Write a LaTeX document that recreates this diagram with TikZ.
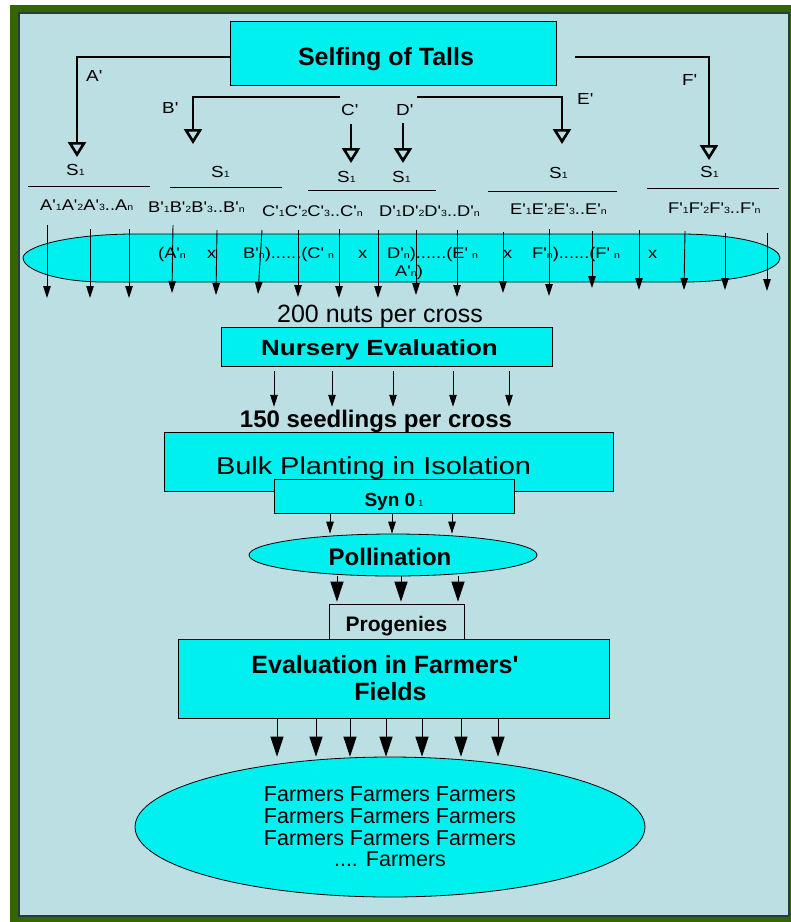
\documentclass[tikz,border=0pt]{standalone}
\usepackage{fontspec}
\setmainfont{Liberation Sans}[Ligatures=TeXOff]
\newfontfamily\widesans{Liberation Sans}[FakeStretch=1.18,Ligatures=TeXOff]
\usetikzlibrary{arrows.meta,shapes.geometric}
\definecolor{cyanbox}{HTML}{00EFEF}
\definecolor{panel}{HTML}{BBDFE3}
\definecolor{frame}{HTML}{336600}
\definecolor{rim}{HTML}{2B3A3A}
\newcommand{\sz}[1]{\fontsize{#1}{#1}\selectfont}
\newcommand{\subn}[1]{{\fontsize{9}{9}\selectfont #1}}
\newcommand{\prm}{'}

\begin{document}
\begin{tikzpicture}[x=1pt,y=-1pt,
    box/.style={draw, fill=cyanbox, line width=0.8pt, inner sep=0pt},
    branchline/.style={line width=2.6pt, -{Triangle[open,length=15pt,width=18pt]}},
    dart/.style={line width=0.9pt, -{Triangle[length=12pt,width=7.5pt]}},
    bigdart/.style={line width=1pt, -{Triangle[length=20pt,width=13pt]}},
    lab/.style={font=\widesans\sz{16}, inner sep=0pt, anchor=base west},
    row/.style={font=\widesans\sz{15.5}, inner sep=0pt, anchor=base west}]
  \useasboundingbox (0,0) rectangle (791,922);
  % frame
  \fill[frame] (10,5) rectangle (791,922);
  \draw[fill=panel, draw=rim, line width=1.6pt] (19,13) rectangle (789,916);

  % selfing
  \node[box, minimum width=326pt, minimum height=64pt, font=\sz{25}\bfseries,
        text height=24pt, text depth=0pt] (title) at (393,53) {Selfing of Talls\hspace*{14pt}};

  \coordinate (aEnd) at (77,157);
  \coordinate (fStart) at (575,57);
  \coordinate (fEnd) at (709,160);
  \coordinate (bStart) at (340,97);
  \coordinate (bEnd) at (193,144);
  \coordinate (cStart) at (351,124);
  \coordinate (cEnd) at (351,163);
  \coordinate (dStart) at (403,123);
  \coordinate (dEnd) at (403,163);
  \coordinate (eStart) at (417,97);
  \coordinate (eEnd) at (562,144);
  \draw[branchline] ([yshift=-4pt]title.west) -| (aEnd);
  \draw[branchline] (fStart) -| (fEnd);
  \draw[branchline] (bStart) -| (bEnd);
  \draw[branchline] (cStart) -- (cEnd);
  \draw[branchline] (dStart) -- (dEnd);
  \draw[branchline] (eStart) -| (eEnd);

  \node[lab] (la) at (86,81) {A\prm};
  \node[lab] (lb) at (162,113) {B\prm};
  \node[lab] (lc) at (341,115) {C\prm};
  \node[lab] (ld) at (396,115) {D\prm};
  \node[lab] (le) at (577,104) {E\prm};
  \node[lab] (lf) at (682,85) {F\prm};

  % S1 labels and rules
  \node[lab] (sA) at (66,175) {S\subn{1}};
  \node[lab] (sB) at (211,177) {S\subn{1}};
  \node[lab] (sC) at (337,182) {S\subn{1}};
  \node[lab] (sD) at (392,182) {S\subn{1}};
  \node[lab] (sE) at (549,178) {S\subn{1}};
  \node[lab] (sF) at (700,177) {S\subn{1}};
  \draw[line width=1pt] (28,186) -- (150,186);
  \draw[line width=1pt] (170,187) -- (282,187);
  \draw[line width=1pt] (308,190) -- (436,190);
  \draw[line width=1pt] (488,191) -- (617,191);
  \draw[line width=1pt] (647,188) -- (779,188);

  \node[row] (rA) at (40,210) {A\prm\subn{1}A\prm\subn{2}A\prm\subn{3}..A\subn{n}};
  \node[row] (rB) at (148,212) {B\prm\subn{1}B\prm\subn{2}B\prm\subn{3}..B\prm\subn{n}};
  \node[row] (rC) at (262,216) {C\prm\subn{1}C\prm\subn{2}C\prm\subn{3}..C\prm\subn{n}};
  \node[row] (rD) at (379,216) {D\prm\subn{1}D\prm\subn{2}D\prm\subn{3}..D\prm\subn{n}};
  \node[row] (rE) at (510,214) {E\prm\subn{1}E\prm\subn{2}E\prm\subn{3}..E\prm\subn{n}};
  \node[row] (rF) at (668,213) {F\prm\subn{1}F\prm\subn{2}F\prm\subn{3}..F\prm\subn{n}};

  % crosses
  \draw[fill=cyanbox, line width=0.8pt] (130,234) -- (684,234)
     .. controls (750,235) and (780,248) .. (780,258)
     .. controls (780,268) and (750,281) .. (688,282) -- (100,282)
     .. controls (50,281) and (23,268) .. (23,258)
     .. controls (23,248) and (60,235) .. (130,234) -- cycle;
  \node[row] (x1) at (158,258) {(A\prm\subn{n}};
  \node[row] (x2) at (207,258) {x};
  \node[row] (x3) at (243,258) {B\prm\subn{n})......(C\prm\hspace{4pt}\subn{n}};
  \node[row] (x4) at (358,258) {x};
  \node[row] (x5) at (387,258) {D\prm\subn{n})......(E\prm\hspace{4pt}\subn{n}};
  \node[row] (x6) at (503,258) {x};
  \node[row] (x7) at (532,258) {F\prm\subn{n})......(F\prm\hspace{4pt}\subn{n}};
  \node[row] (x8) at (648,258) {x};
  \node[row] (x9) at (395,276) {A\prm\subn{n})};

  \foreach \xa/\ya/\xb/\yb [count=\k] in {47/225/47/298, 90/229/90/298,
      129/229/129/298, 173/225/172/293, 217/230/216/295, 262/230/258/294,
      298/230/298/297, 339/229/339/298, 378/230/378/298, 416/230/416/295,
      457/230/457/297, 503/232/503/293, 549/229/549/296, 592/231/592/288,
      639/230/639/290, 685/231/684/290, 725/233/725/290, 767/233/767/291}{
    \coordinate (up\k) at (\xa,\ya);
    \coordinate (dn\k) at (\xb,\yb);
    \draw[dart] (up\k) -- (dn\k);
  }

  % nursery
  \node[font=\sz{25}, inner sep=0pt, anchor=base] (nuts) at (380,322) {200 nuts per cross};
  \node[box, minimum width=331pt, minimum height=39pt, font=\widesans\sz{22}\bfseries,
        text height=17pt, text depth=0pt] (nurs) at (386.5,346.5) {Nursery Evaluation\hspace*{14pt}};
  \node[font=\sz{24}\bfseries, inner sep=0pt, anchor=base, text height=18pt] (seed)
        at (376,427) {150 seedlings per cross};
  \foreach \x in {274,332,393,453,509}
    \draw[dart, shorten <=5pt, shorten >=2pt] (nurs.south -| \x,0) -- (seed.north -| \x,0);

  % isolation
  \node[box, minimum width=449pt, minimum height=59pt, font=\widesans\sz{24.5},
        text height=25pt, text depth=0pt] (bulk) at (388.5,461.5) {Bulk Planting in Isolation\hspace*{30pt}};
  \node[box, minimum width=240pt, minimum height=34pt, font=\sz{19},
        text height=20pt, text depth=0pt] (syn) at (394,496) {\textbf{Syn 0}\,\subn{1}};
  \node[box, ellipse, minimum width=288pt, minimum height=42pt, font=\sz{24}\bfseries,
        text height=20pt, text depth=0pt] (pol) at (393,555) {Pollination\hspace*{6pt}};
  \foreach \x in {330,392,452}
    \draw[dart] (syn.south -| \x,0) -- (pol.north -| \x,0);

  % progenies
  \node[box, fill=panel, minimum width=135pt, minimum height=35pt, font=\sz{21}\bfseries,
        text height=19pt, text depth=0pt] (prog) at (396.5,621.5) {Progenies};
  \foreach \x in {337,401,458}
    \draw[bigdart, shorten >=2pt] (pol.south -| \x,0) -- (prog.north -| \x,0);

  \node[box, minimum width=431pt, minimum height=79pt, align=center,
        font=\fontsize{25}{27}\selectfont\bfseries] (eval) at (393.5,678.5)
        {Evaluation in Farmers\prm\hspace*{17pt}\\Fields\hspace*{6pt}};

  % farmers
  \node[box, ellipse, minimum width=510pt, minimum height=140pt, align=center,
        font=\fontsize{21.5}{21.7}\selectfont] (farm) at (390,827)
        {\rule{0pt}{4pt}Farmers Farmers Farmers\\Farmers Farmers Farmers\\Farmers Farmers Farmers\\.... Farmers};
  \foreach \x in {277,316,350,386,422,461,498}
    \draw[bigdart] (eval.south -| \x,0) -- (farm.north -| \x,0);
\end{tikzpicture}
\end{document}
